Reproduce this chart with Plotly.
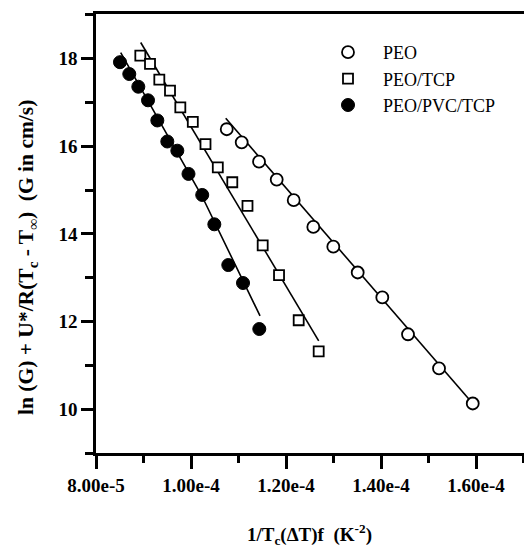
import plotly.graph_objects as go

# Growth-rate analysis: ln(G) + U*/R(Tc - Tinf) versus 1/Tc(dT)f
peo_x = [1.0752e-4, 1.1067e-4, 1.1432e-4, 1.1804e-4, 1.2162e-4, 1.2575e-4,
         1.2996e-4, 1.3509e-4, 1.4027e-4, 1.4568e-4, 1.5221e-4, 1.5931e-4]
peo_y = [16.39, 16.09, 15.65, 15.24, 14.77, 14.16,
         13.71, 13.12, 12.55, 11.71, 10.93, 10.13]

tcp_x = [8.933e-5, 9.137e-5, 9.333e-5, 9.558e-5, 9.775e-5, 1.0038e-4, 1.0305e-4,
         1.0564e-4, 1.0869e-4, 1.1189e-4, 1.1509e-4, 1.1853e-4, 1.2267e-4, 1.2688e-4]
tcp_y = [18.07, 17.88, 17.52, 17.27, 16.89, 16.56, 16.05,
         15.52, 15.18, 14.64, 13.74, 13.06, 12.03, 11.32]

pvc_x = [8.505e-5, 8.701e-5, 8.891e-5, 9.095e-5, 9.291e-5, 9.501e-5, 9.712e-5,
         9.947e-5, 1.0236e-4, 1.0491e-4, 1.0785e-4, 1.1095e-4, 1.1438e-4]
pvc_y = [17.92, 17.65, 17.36, 17.05, 16.59, 16.11, 15.90,
         15.37, 14.89, 14.22, 13.29, 12.88, 11.83]

# fitted lines (end points)
peo_fit_x = [1.0731e-4, 1.5931e-4]
peo_fit_y = [16.64, 10.13]
tcp_fit_x = [8.941e-5, 1.2688e-4]
tcp_fit_y = [18.37, 11.56]
pvc_fit_x = [8.52e-5, 1.0232e-4, 1.1453e-4]
pvc_fit_y = [18.14, 14.86, 12.13]

x_tick_vals = [8e-5, 1.0e-4, 1.2e-4, 1.4e-4, 1.6e-4]
x_tick_text = ["8.00e-5", "1.00e-4", "1.20e-4", "1.40e-4", "1.60e-4"]
y_tick_vals = [10, 12, 14, 16, 18]
y_tick_text = ["10", "12", "14", "16", "18"]

W, H = 524, 547
L, R, T, B = 96, 0, 14, 94

serif = "Liberation Serif"

fig = go.Figure()

for fx, fy in [(peo_fit_x, peo_fit_y), (tcp_fit_x, tcp_fit_y), (pvc_fit_x, pvc_fit_y)]:
    fig.add_trace(go.Scatter(x=fx, y=fy, mode="lines", showlegend=False,
                             line=dict(color="black", width=1.6), hoverinfo="skip"))

fig.add_trace(go.Scatter(x=peo_x, y=peo_y, mode="markers", name="PEO", legendgroup="a",
                         marker=dict(symbol="circle", size=12, color="white",
                                     line=dict(color="black", width=1.8))))
fig.add_trace(go.Scatter(x=tcp_x, y=tcp_y, mode="markers", name="PEO/TCP", legendgroup="b",
                         marker=dict(symbol="square", size=10, color="white",
                                     line=dict(color="black", width=1.8))))
fig.add_trace(go.Scatter(x=pvc_x, y=pvc_y, mode="markers", name="PEO/PVC/TCP", legendgroup="c",
                         marker=dict(symbol="circle", size=13, color="black",
                                     line=dict(color="black", width=1))))

def px_x(p):
    return (p - L) / (W - L - R)

def px_y(p):
    return (H - B - p) / (H - T - B)

fig.update_layout(
    width=W, height=H,
    margin=dict(l=L, r=R, t=T, b=B, pad=0),
    paper_bgcolor="white", plot_bgcolor="white",
    showlegend=True,
    legend=dict(x=px_x(313), y=px_y(34), xanchor="left", yanchor="top",
                font=dict(family=serif, size=18, color="black"),
                bgcolor="rgba(0,0,0,0)", itemwidth=60,
                traceorder="grouped", tracegroupgap=0),
    xaxis=dict(range=[8e-5, 1.701e-4], showgrid=False, zeroline=False,
               showline=True, linecolor="black", linewidth=2.5, mirror=True,
               tickmode="array", tickvals=x_tick_vals, ticktext=x_tick_text,
               ticks="outside", ticklen=13, tickwidth=2.5, tickcolor="black",
               tickfont=dict(family=serif, size=19, color="black", weight="bold"),
               minor=dict(dtick=1e-5, tick0=8e-5, ticks="outside", ticklen=7,
                          tickwidth=2.5, tickcolor="black", showgrid=False)),
    yaxis=dict(range=[9.0, 19.02], showgrid=False, zeroline=False,
               showline=True, linecolor="black", linewidth=2.5, mirror=False,
               tickmode="array", tickvals=y_tick_vals, ticktext=y_tick_text,
               ticks="outside", ticklen=12, tickwidth=2.5, tickcolor="black",
               tickfont=dict(family=serif, size=19, color="black", weight="bold"),
               minor=dict(dtick=1, tick0=9, ticks="outside", ticklen=8,
                          tickwidth=2.5, tickcolor="black", showgrid=False)),
    annotations=[
        dict(text="ln (G) + U*/R(T<sub>c</sub> - T<sub>∞</sub>)  (G in cm/s)",
             xref="paper", yref="paper", x=px_x(27), y=px_y(258),
             xanchor="center", yanchor="middle", textangle=-90, showarrow=False,
             font=dict(family=serif, size=21.5, color="black", weight="bold")),
        dict(text="1/T<sub>c</sub>(ΔT)f  (K<sup>-2</sup>)",
             xref="paper", yref="paper", x=px_x(309), y=px_y(534),
             xanchor="center", yanchor="middle", showarrow=False,
             font=dict(family=serif, size=19, color="black", weight="bold")),
    ],
)

fig.write_html("out.html")
